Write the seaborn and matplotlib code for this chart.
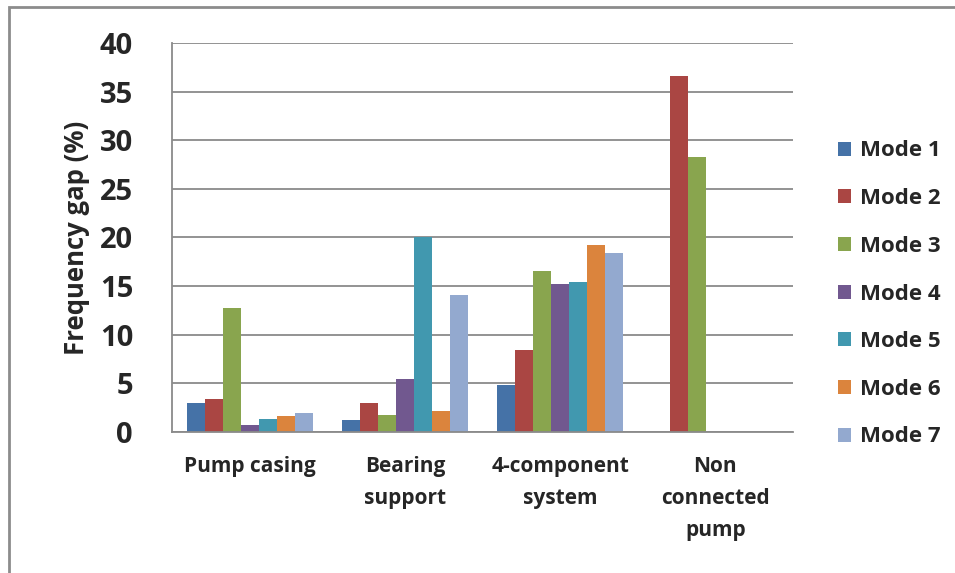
import numpy as np
import pandas as pd
import matplotlib
matplotlib.use('Agg')
import matplotlib.pyplot as plt
import seaborn as sns
from matplotlib.patches import Rectangle

categories = ['Pump casing', 'Bearing\nsupport', '4-component\nsystem', 'Non\nconnected\npump']
modes = ['Mode 1', 'Mode 2', 'Mode 3', 'Mode 4', 'Mode 5', 'Mode 6', 'Mode 7']

# frequency gap (%) per category, one list per mode
mode1 = [3.0, 1.2, 4.8, np.nan]
mode2 = [3.4, 3.0, 8.4, 36.6]
mode3 = [12.8, 1.75, 16.6, 28.3]
mode4 = [0.7, 5.5, 15.2, np.nan]
mode5 = [1.3, 20.1, 15.4, np.nan]
mode6 = [1.6, 2.2, 19.2, np.nan]
mode7 = [2.0, 14.1, 18.4, np.nan]

colors = ['#4572A7', '#AA4643', '#89A54E', '#71588F', '#4198AF', '#DB843D', '#93A9CF']

rows = []
for m, vals in zip(modes, [mode1, mode2, mode3, mode4, mode5, mode6, mode7]):
    for c, v in zip(categories, vals):
        rows.append({'category': c, 'mode': m, 'gap': v})
df = pd.DataFrame(rows)

sns.set_style('white')
plt.rcParams['font.family'] = ['Open Sans', 'DejaVu Sans']

fig = plt.figure(figsize=(9.55, 5.73), dpi=100)
ax = fig.add_axes([172 / 955, 1 - 432 / 573, (793 - 172) / 955, (432 - 43) / 573])

sns.barplot(data=df, x='category', y='gap', hue='mode', order=categories,
            hue_order=modes, palette=colors, width=0.81, linewidth=0,
            saturation=1, ax=ax)

ax.set_xlim(-0.5, 3.5)
ax.set_ylim(0, 40)
ax.set_yticks(range(0, 41, 5))
ax.set_yticklabels([str(v) for v in range(0, 41, 5)], fontsize=21, fontweight='bold')
ax.yaxis.grid(True, color='#8a8a8a', linewidth=1.3)
ax.set_axisbelow(True)

# category boundaries as major ticks, labels on minor ticks
ax.set_xticks([-0.5, 0.5, 1.5, 2.5, 3.5])
ax.set_xticklabels([])
ax.set_xticks(range(4), minor=True)
ax.set_xticklabels(categories, minor=True, fontsize=15, fontweight='bold',
                   linespacing=1.7, va='top')
ax.tick_params(axis='x', which='minor', length=0, pad=17)
ax.tick_params(axis='x', which='major', length=6, width=1, color='#8a8a8a', direction='out')
ax.tick_params(axis='y', length=8, width=1, color='#8a8a8a', direction='out', pad=20)

ax.set_xlabel('')
ax.set_ylabel('Frequency gap (%)', fontsize=18.5, fontweight='bold', labelpad=7)

for s in ['top', 'right']:
    ax.spines[s].set_visible(False)
for s in ['left', 'bottom']:
    ax.spines[s].set_color('#8a8a8a')
    ax.spines[s].set_linewidth(1.3)

handles, labels = ax.get_legend_handles_labels()
ax.legend(handles, labels, loc='center left', bbox_to_anchor=(818 / 955, 1 - 294 / 573),
          bbox_transform=fig.transFigure, frameon=False,
          prop={'size': 16, 'weight': 'bold'}, handlelength=0.6, handleheight=0.6,
          handletextpad=0.4, labelspacing=1.2)

fig.patches.append(Rectangle((9 / 955, -0.05), 1.1, 1 - 7 / 573 + 0.05,
                             transform=fig.transFigure, fill=False,
                             edgecolor='#8c8c8c', linewidth=2))

fig.savefig('out.png', dpi=100)
